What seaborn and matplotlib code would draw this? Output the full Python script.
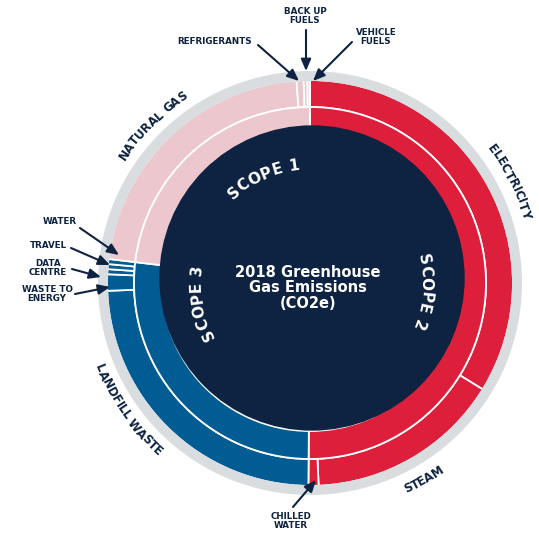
import numpy as np
import pandas as pd
import matplotlib
matplotlib.use("Agg")
import matplotlib.pyplot as plt
from matplotlib.patches import Circle
from matplotlib.font_manager import FontProperties
import seaborn as sns

# emission sources, clockwise from 12 o'clock (share of total, %)
sources = ["Electricity", "Steam", "Chilled Water",
           "Landfill Waste", "Waste to Energy", "Data Centre", "Travel", "Water",
           "Natural Gas", "Refrigerants", "Back Up Fuels", "Vehicle Fuels"]
source_share = [33.7, 15.5, 0.8,
                24.2, 1.3, 0.4, 0.4, 0.4,
                22.0, 0.55, 0.3, 0.2]
source_scope = ["Scope 2", "Scope 2", "Scope 2",
                "Scope 3", "Scope 3", "Scope 3", "Scope 3", "Scope 3",
                "Scope 1", "Scope 1", "Scope 1", "Scope 1"]
scope_order = ["Scope 2", "Scope 3", "Scope 1"]

df = pd.DataFrame({"source": sources, "share": source_share, "scope": source_scope})
scope_share = df.groupby("scope")["share"].sum().reindex(scope_order)

sns.set_style("white")
pal = dict(zip(["Scope 1", "Scope 2", "Scope 3"],
               sns.color_palette(["#ECC8CE", "#DD1F3B", "#015C93"])))
navy = "#0D2341"
grey = "#D9DDE0"

fig = plt.figure(figsize=(5.39, 5.34), dpi=100)
ax = fig.add_axes([0, 0, 1, 1])

# geometry in pixels, centre of the donut
CX, CY = 310, 283
R_OUT, R_MID, R_IN = 203, 176, 150

ax.pie(df["share"], radius=R_OUT, startangle=90, counterclock=False,
       colors=[pal[s] for s in df["scope"]],
       wedgeprops=dict(width=R_OUT - R_MID, edgecolor="white", linewidth=1.3))
ax.pie(scope_share, radius=R_MID, startangle=90, counterclock=False,
       colors=[pal[s] for s in scope_share.index],
       wedgeprops=dict(width=R_MID - R_IN + 2, edgecolor="white", linewidth=1.3))
ax.pie([1], radius=212, colors=[grey], wedgeprops=dict(width=10, linewidth=0))
ax.add_patch(Circle((2, 5), 152, color=navy, zorder=5))

ax.set_xlim(-CX, 539 - CX)
ax.set_ylim(CY - 534, CY)
ax.set_aspect("equal")
ax.axis("off")


def px(x, y):
    return x - CX, CY - y


rend = fig.canvas.get_renderer()


def arc_text(text, theta, r, size, color, top=True, track=0.0):
    fp = FontProperties(family="DejaVu Sans", weight="bold", size=size)
    base = rend.get_text_width_height_descent("HH", fp, ismath=False)[0]
    ws = [rend.get_text_width_height_descent("H" + c + "H", fp, ismath=False)[0] - base + track
          for c in text]
    total = sum(ws)
    cap = size * 100 / 72 * 0.73
    rb = r - cap / 2 if top else r + cap / 2
    pos = -total / 2
    for c, w in zip(text, ws):
        s = pos + w / 2
        pos += w
        d = np.degrees(s / rb)
        th = theta + d if top else theta - d
        rot = -th if top else 180 - th
        t = np.radians(th)
        ax.text(rb * np.sin(t), rb * np.cos(t), c, fontproperties=fp, color=color,
                ha="center", va="baseline", rotation=rot, rotation_mode="anchor", zorder=10)


arc_text("NATURAL GAS", 315, 226, 8.5, navy, top=True, track=-0.3)
arc_text("ELECTRICITY", 63, 227, 8.5, navy, top=True, track=-0.3)
arc_text("STEAM", 150, 227, 8.5, navy, top=False, track=-0.3)
arc_text("LANDFILL WASTE", 235, 226, 8.5, navy, top=False, track=-0.3)
arc_text("SCOPE 1", 336, 119, 11, "white", top=True, track=0.3)
arc_text("SCOPE 2", 94.5, 117, 11, "white", top=True, track=0.3)
arc_text("SCOPE 3", 260, 115, 11, "white", top=True, track=0.3)

ax.text(*px(308, 288), "2018 Greenhouse\nGas Emissions\n(CO2e)", color="white",
        fontsize=10.5, fontweight="bold", ha="center", va="center",
        linespacing=1.05, zorder=10)

# small callouts: label, label centre, arrow tail, arrow tip
callouts = [
    ("REFRIGERANTS", (215, 41), (258, 45), (299, 81)),
    ("BACK UP\nFUELS", (305, 16), (306, 30), (306, 71)),
    ("VEHICLE\nFUELS", (376, 37), (352, 42), (313, 81)),
    ("WATER", (60, 222), (80, 228), (119, 255)),
    ("TRAVEL", (48, 245), (71, 248), (110, 265)),
    ("DATA\nCENTRE", (48, 268), (72, 269), (101, 277)),
    ("WASTE TO\nENERGY", (47, 294), (75, 294), (110, 287)),
    ("CHILLED\nWATER", (291, 521), (293, 507), (316, 480)),
]
for label, lxy, tail, tip in callouts:
    ax.text(*px(*lxy), label, color=navy, fontsize=6.3, fontweight="bold",
            ha="center", va="center", linespacing=1.0, zorder=10)
    ax.annotate("", xy=px(*tip), xytext=px(*tail),
                arrowprops=dict(arrowstyle="-|>,head_length=0.7,head_width=0.3",
                                color=navy, lw=1.5, shrinkA=0, shrinkB=0), zorder=11)

fig.savefig("out.png", dpi=100)
